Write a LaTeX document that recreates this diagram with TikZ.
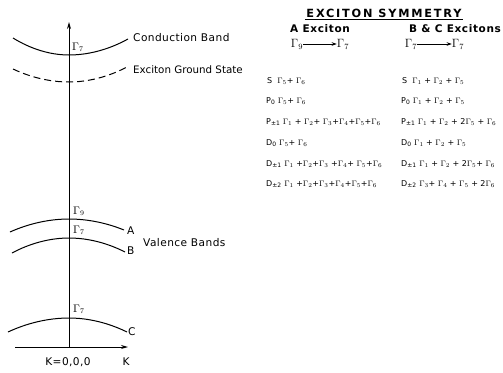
\documentclass[tikz,border=0pt]{standalone}
\usepackage{fontspec}
\setmainfont{DejaVu Sans}
\newfontfamily\hdrfont[LetterSpace=16]{DejaVu Sans}
\newfontfamily\subfont[LetterSpace=6]{DejaVu Sans}
\newfontfamily\lblfont[LetterSpace=4]{DejaVu Sans}
\usetikzlibrary{arrows.meta}
\newcommand\Gm[1]{$\Gamma_{#1}$}
\begin{document}
\begin{tikzpicture}[x=1pt,y=-1pt,
  band/.style={line width=1pt},
  axis/.style={line width=1pt,-{Stealth[length=7pt,width=4pt]}},
  lbl/.style={anchor=west,inner sep=0pt,font=\lblfont\fontsize{10.6}{12}\selectfont},
  gam/.style={anchor=base west,inner sep=0pt,font=\fontsize{10.5}{12}\selectfont},
  row/.style={anchor=west,inner sep=0pt,font=\fontsize{8}{10}\selectfont},
  hd/.style={inner sep=0pt,font=\fontsize{11}{12}\selectfont}]
\useasboundingbox (0,0) rectangle (503,372);
% axes
\coordinate (o) at (69,347);
\coordinate (ytop) at (69,22);
\coordinate (xs) at (15,347);
\coordinate (xe) at (128,347);
\draw[axis] (o) -- (ytop);
\draw[axis] (xs) -- (xe);
\node[hd,font=\lblfont\fontsize{10.6}{12}\selectfont] (k0) at (68,362) {K=0,0,0};
\node[hd,font=\lblfont\fontsize{10.6}{12}\selectfont] (k) at (126,362) {K};
% bands
\draw[band] (13,38) parabola bend (69,55) (128,39);
\draw[band,dash pattern=on 7pt off 4pt] (13,69) parabola bend (69,82) (127,67);
\draw[band] (10,232) parabola bend (69,219) (124,230);
\draw[band] (12,253) parabola bend (69,238) (125,252);
\draw[band] (8,332) parabola bend (69,318) (127,332);
% band labels
\node[lbl] (cb) at (133,38) {Conduction Band};
\node[lbl,font=\fontsize{10.3}{12}\selectfont] (eg) at (133,70) {Exciton Ground State};
\node[lbl] (la) at (127,231) {A};
\node[lbl] (lb) at (127,251) {B};
\node[lbl] (lc) at (128,332) {C};
\node[lbl] (vb) at (143,243) {Valence Bands};
\node[gam] (g1) at (72,50) {\Gm7};
\node[gam] (g2) at (73,214) {\Gm9};
\node[gam] (g3) at (73,233) {\Gm7};
\node[gam] (g4) at (73,312) {\Gm7};
% table header
\node[hd,inner sep=1.5pt] (title) at (384,13) {\hdrfont\bfseries\fontsize{11.3}{12}\selectfont EXCITON SYMMETRY};
\draw[line width=0.9pt] (title.south west) -- (title.south east);
\node[hd] (ha) at (320,29) {\subfont\bfseries\fontsize{10.5}{12}\selectfont A Exciton};
\node[hd] (hb) at (455,29) {\subfont\bfseries\fontsize{10.5}{12}\selectfont B \& C Excitons};
\node[hd,font=\fontsize{12}{12}\selectfont] (a1) at (297,44) {\Gm9};
\node[hd,font=\fontsize{12}{12}\selectfont] (a2) at (343,44) {\Gm7};
\draw[line width=0.8pt,-{Stealth[length=5pt,width=3.5pt]}] (a1) -- (a2);
\node[hd,font=\fontsize{12}{12}\selectfont] (b1) at (411,44) {\Gm7};
\node[hd,font=\fontsize{12}{12}\selectfont] (b2) at (458,44) {\Gm7};
\draw[line width=0.8pt,-{Stealth[length=5pt,width=3.5pt]}] (b1) -- (b2);
% rows left
\node[row] (l1) at (267,81) {S\ \ \Gm5+ \Gm6};
\node[row] (l2) at (266,101) {P\textsubscript{0} \Gm5+ \Gm6};
\node[row] (l3) at (266,122) {P\textsubscript{±1} \Gm1 + \Gm2+ \Gm3+\Gm4+\Gm5+\Gm6};
\node[row] (l4) at (266,143) {D\textsubscript{0} \Gm5+ \Gm6};
\node[row] (l5) at (266,164) {D\textsubscript{±1} \Gm1 +\Gm2+\Gm3 +\Gm4+ \Gm5+\Gm6};
\node[row] (l6) at (266,184) {D\textsubscript{±2} \Gm1 +\Gm2+\Gm3+\Gm4+\Gm5+\Gm6};
% rows right
\node[row] (r1) at (402,81) {S\ \ \Gm1 + \Gm2 + \Gm5};
\node[row] (r2) at (401,101) {P\textsubscript{0} \Gm1 + \Gm2 + \Gm5};
\node[row] (r3) at (401,122) {P\textsubscript{±1} \Gm1 + \Gm2 + 2\Gm5 + \Gm6};
\node[row] (r4) at (401,143) {D\textsubscript{0} \Gm1 + \Gm2 + \Gm5};
\node[row] (r5) at (401,164) {D\textsubscript{±1} \Gm1 + \Gm2 + 2\Gm5+ \Gm6};
\node[row] (r6) at (401,184) {D\textsubscript{±2} \Gm3+ \Gm4 + \Gm5 + 2\Gm6};
\end{tikzpicture}
\end{document}
